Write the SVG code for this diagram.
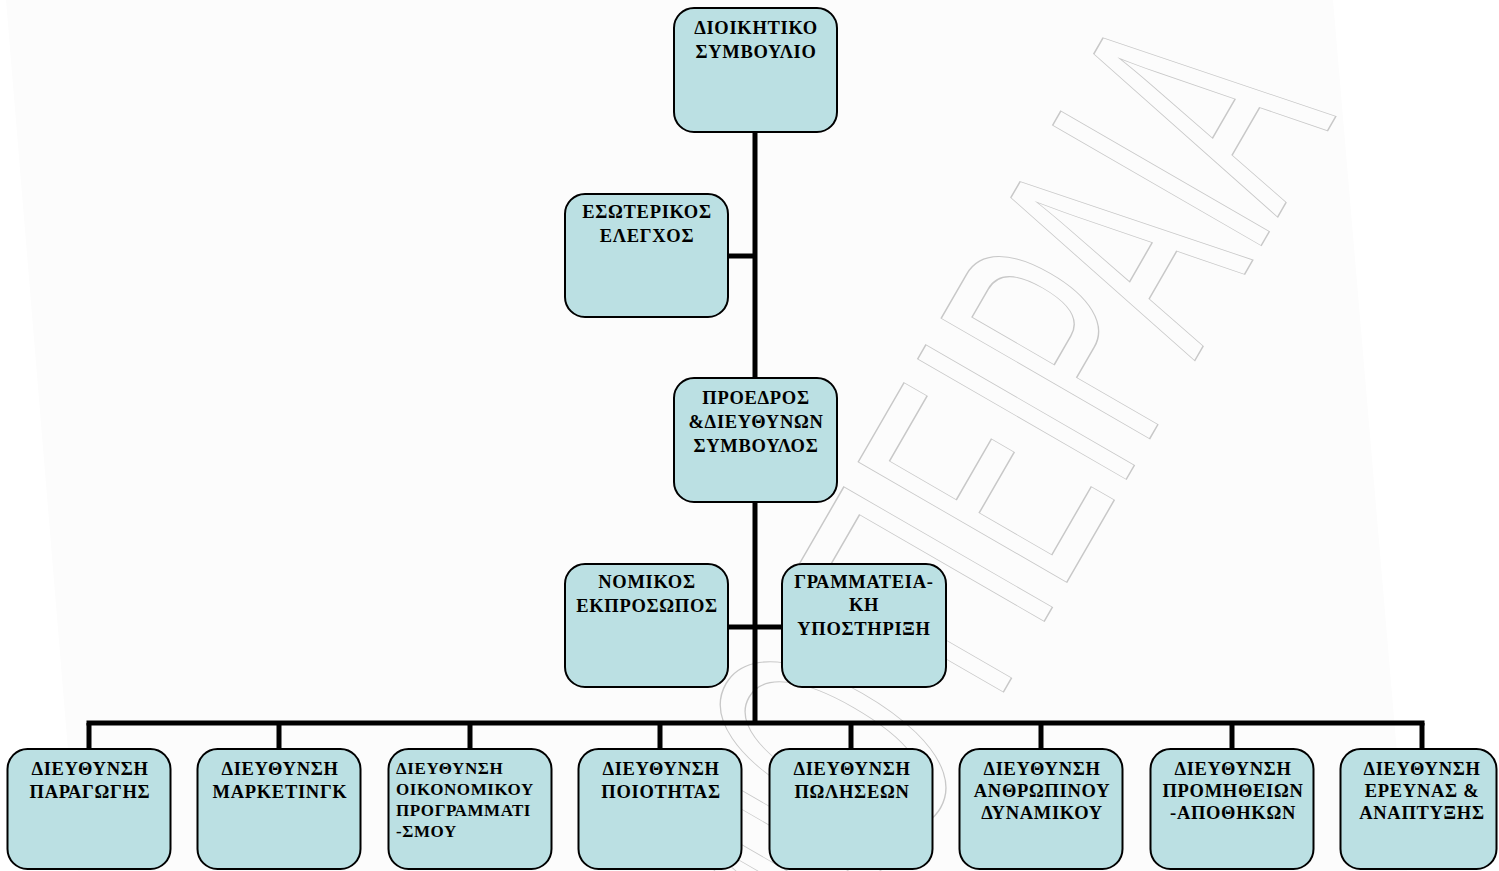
<svg xmlns="http://www.w3.org/2000/svg" width="1499" height="871" viewBox="0 0 1499 871">
<style>
.box{fill:#bbe0e3;stroke:#000;stroke-width:2}
.t{font-family:"Liberation Serif","Times New Roman",serif;font-weight:bold;font-size:18.5px;letter-spacing:0.7px;fill:#000;text-anchor:middle}
.tl{font-family:"Liberation Serif","Times New Roman",serif;font-weight:bold;font-size:17px;letter-spacing:0.6px;fill:#000}
.c{stroke:#000;stroke-width:5;fill:none}
.wm{font-family:"Liberation Sans",Arial,sans-serif;font-size:350px;fill:none;stroke:#c8c8c8;stroke-width:1.5}
</style>
<rect x="0" y="0" width="1499" height="871" fill="#ffffff"/>
<polygon points="6,0 1333,0 1407,871 78,871" fill="#fcfcfc"/>
<g id="watermark">
<text class="wm" transform="translate(1336,116) rotate(-60)" x="0" y="0" text-anchor="end" textLength="1060" lengthAdjust="spacingAndGlyphs">ΜΙΟ ΠΕΙΡΑΙΑ</text>
</g>
<g id="connectors">
<line class="c" x1="755" y1="132" x2="755" y2="723"/>
<line class="c" x1="728" y1="256" x2="755" y2="256"/>
<line class="c" x1="728" y1="627" x2="782" y2="627"/>
<line class="c" x1="86.5" y1="723" x2="1424.5" y2="723"/>
<line class="c" x1="89" y1="723" x2="89" y2="749"/>
<line class="c" x1="279" y1="723" x2="279" y2="749"/>
<line class="c" x1="470" y1="723" x2="470" y2="749"/>
<line class="c" x1="660" y1="723" x2="660" y2="749"/>
<line class="c" x1="851" y1="723" x2="851" y2="749"/>
<line class="c" x1="1041" y1="723" x2="1041" y2="749"/>
<line class="c" x1="1232" y1="723" x2="1232" y2="749"/>
<line class="c" x1="1422" y1="723" x2="1422" y2="749"/>
</g>
<g id="n_board">
<rect class="box" x="674" y="8" width="163" height="124" rx="20"/>
<text class="t" x="756" y="34">ΔΙΟΙΚΗΤΙΚΟ</text>
<text class="t" x="756" y="58">ΣΥΜΒΟΥΛΙΟ</text>
</g>
<g id="n_audit">
<rect class="box" x="565" y="194" width="163" height="123" rx="20"/>
<text class="t" x="647" y="218">ΕΣΩΤΕΡΙΚΟΣ</text>
<text class="t" x="647" y="242">ΕΛΕΓΧΟΣ</text>
</g>
<g id="n_ceo">
<rect class="box" x="674" y="378" width="163" height="124" rx="20"/>
<text class="t" x="756" y="404">ΠΡΟΕΔΡΟΣ</text>
<text class="t" x="756" y="428">&amp;ΔΙΕΥΘΥΝΩΝ</text>
<text class="t" x="756" y="452">ΣΥΜΒΟΥΛΟΣ</text>
</g>
<g id="n_legal">
<rect class="box" x="565" y="564" width="163" height="123" rx="20"/>
<text class="t" x="647" y="588">ΝΟΜΙΚΟΣ</text>
<text class="t" x="647" y="612">ΕΚΠΡΟΣΩΠΟΣ</text>
</g>
<g id="n_secretariat">
<rect class="box" x="782" y="564" width="164" height="123" rx="20"/>
<text class="t" x="864" y="588">ΓΡΑΜΜΑΤΕΙΑ-</text>
<text class="t" x="864" y="611">ΚΗ</text>
<text class="t" x="864" y="635">ΥΠΟΣΤΗΡΙΞΗ</text>
</g>
<g id="n_production">
<rect class="box" x="7.5" y="749" width="163" height="120" rx="20"/>
<text class="t" x="90" y="775">ΔΙΕΥΘΥΝΣΗ</text>
<text class="t" x="90" y="798">ΠΑΡΑΓΩΓΗΣ</text>
</g>
<g id="n_marketing">
<rect class="box" x="197.5" y="749" width="163" height="120" rx="20"/>
<text class="t" x="280" y="775">ΔΙΕΥΘΥΝΣΗ</text>
<text class="t" x="280" y="798">ΜΑΡΚΕΤΙΝΓΚ</text>
</g>
<g id="n_finance">
<rect class="box" x="388.5" y="749" width="163" height="120" rx="20"/>
<text class="tl" x="396" y="774">ΔΙΕΥΘΥΝΣΗ</text>
<text class="tl" x="396" y="795">ΟΙΚΟΝΟΜΙΚΟΥ</text>
<text class="tl" x="396" y="816">ΠΡΟΓΡΑΜΜΑΤΙ</text>
<text class="tl" x="396" y="837">-ΣΜΟΥ</text>
</g>
<g id="n_quality">
<rect class="box" x="578.5" y="749" width="163" height="120" rx="20"/>
<text class="t" x="661" y="775">ΔΙΕΥΘΥΝΣΗ</text>
<text class="t" x="661" y="798">ΠΟΙΟΤΗΤΑΣ</text>
</g>
<g id="n_sales">
<rect class="box" x="769.5" y="749" width="163" height="120" rx="20"/>
<text class="t" x="852" y="775">ΔΙΕΥΘΥΝΣΗ</text>
<text class="t" x="852" y="798">ΠΩΛΗΣΕΩΝ</text>
</g>
<g id="n_hr">
<rect class="box" x="959.5" y="749" width="163" height="120" rx="20"/>
<text class="t" x="1042" y="775">ΔΙΕΥΘΥΝΣΗ</text>
<text class="t" x="1042" y="797">ΑΝΘΡΩΠΙΝΟΥ</text>
<text class="t" x="1042" y="819">ΔΥΝΑΜΙΚΟΥ</text>
</g>
<g id="n_procurement">
<rect class="box" x="1150.5" y="749" width="163" height="120" rx="20"/>
<text class="t" x="1233" y="775">ΔΙΕΥΘΥΝΣΗ</text>
<text class="t" x="1233" y="797">ΠΡΟΜΗΘΕΙΩΝ</text>
<text class="t" x="1233" y="819">-ΑΠΟΘΗΚΩΝ</text>
</g>
<g id="n_rnd">
<rect class="box" x="1340.5" y="749" width="156" height="120" rx="20"/>
<text class="t" x="1422" y="775">ΔΙΕΥΘΥΝΣΗ</text>
<text class="t" x="1422" y="797">ΕΡΕΥΝΑΣ &amp;</text>
<text class="t" x="1422" y="819">ΑΝΑΠΤΥΞΗΣ</text>
</g>
</svg>
